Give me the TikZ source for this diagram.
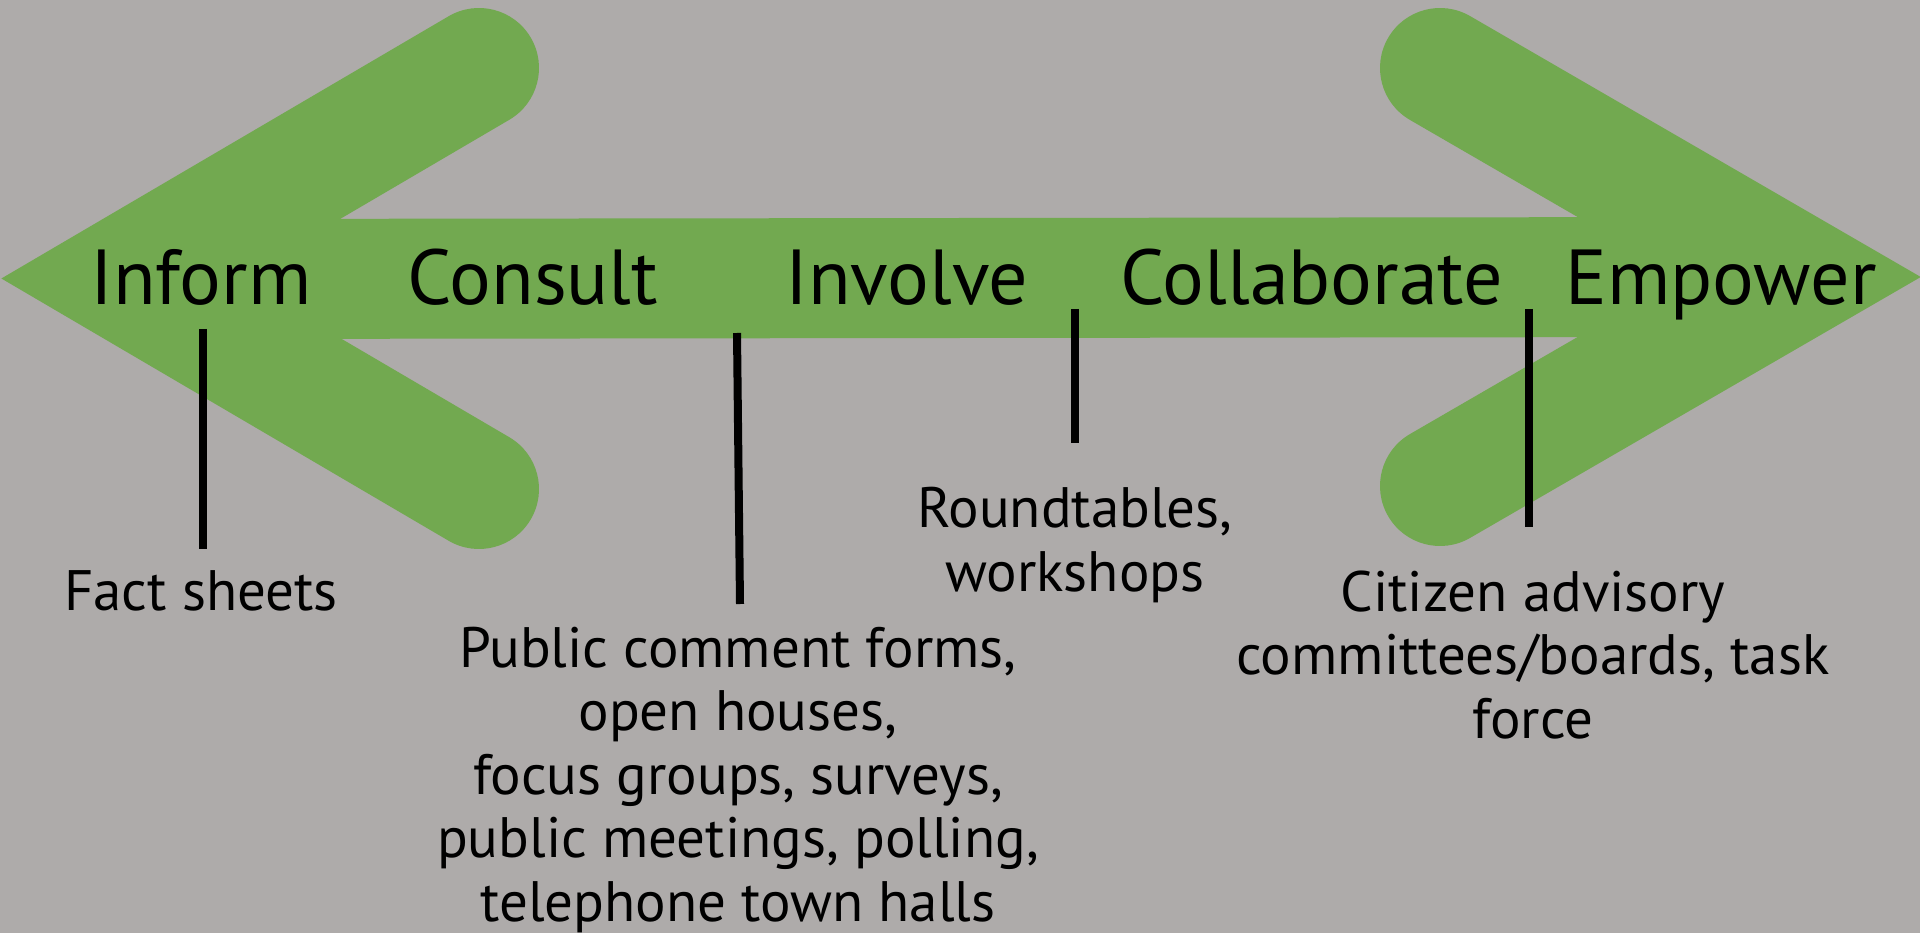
\documentclass[tikz,border=0pt]{standalone}
\usepackage{fontspec}
\setmainfont{PT Sans}
\definecolor{bg}{RGB}{174,171,170}
\definecolor{leaf}{RGB}{114,169,80}
\begin{document}
\begin{tikzpicture}[x=1pt,y=-1pt,
  arm/.style={draw=leaf, line width=120pt, line cap=round, line join=miter},
  stage/.style={font=\fontsize{78}{90}\selectfont, anchor=base, inner sep=0pt},
  item/.style={font=\fontsize{57}{63.5}\selectfont, anchor=base, align=center, inner sep=0pt},
  tick/.style={draw=black, line width=8pt}]
% canvas
\fill[bg] (0,0) rectangle (1920,933);
\useasboundingbox (0,0) rectangle (1920,933);
% shaft of the double arrow (its ends tuck under the heads)
\fill[leaf] (200,219) -- (1720,217) -- (1720,337) -- (200,339) -- cycle;
% the two chevron heads
\draw[arm] (479,68) -- (120,278.5) -- (479,489);
\draw[arm] (1440,68) -- (1801,277) -- (1440,486);
% stages along the arrow
\node[stage] (inform)  at (201,305)  {Inform};
\node[stage] (consult) at (533,305)  {Consult};
\node[stage] (involve) at (907,305)  {Involve};
\node[stage] (collab)  at (1312,305) {Collaborate};
\node[stage] (empower) at (1721,305) {Empower};
% techniques (base anchor sits on the last line)
\node[item] (fact)    at (201,610)  {Fact sheets};
\node[item] (public)  at (738,921)  {Public comment forms,\\ open houses,\\ focus groups, surveys,\\ public meetings, polling,\\ telephone town halls};
\node[item] (round)   at (1075,591) {Roundtables,\\ workshops};
\node[item] (citizen) at (1533,738) {Citizen advisory\\ committees/boards, task\\ force};
% leader lines
\coordinate (t1a) at (203,329);  \coordinate (t1b) at (203,549);
\coordinate (t2a) at (737,333);  \coordinate (t2b) at (740,604);
\coordinate (t3a) at (1075,309); \coordinate (t3b) at (1075,443);
\coordinate (t4a) at (1529,309); \coordinate (t4b) at (1529,527);
\draw[tick] (t1a) -- (t1b);
\draw[tick] (t2a) -- (t2b);
\draw[tick] (t3a) -- (t3b);
\draw[tick] (t4a) -- (t4b);
\end{tikzpicture}
\end{document}
